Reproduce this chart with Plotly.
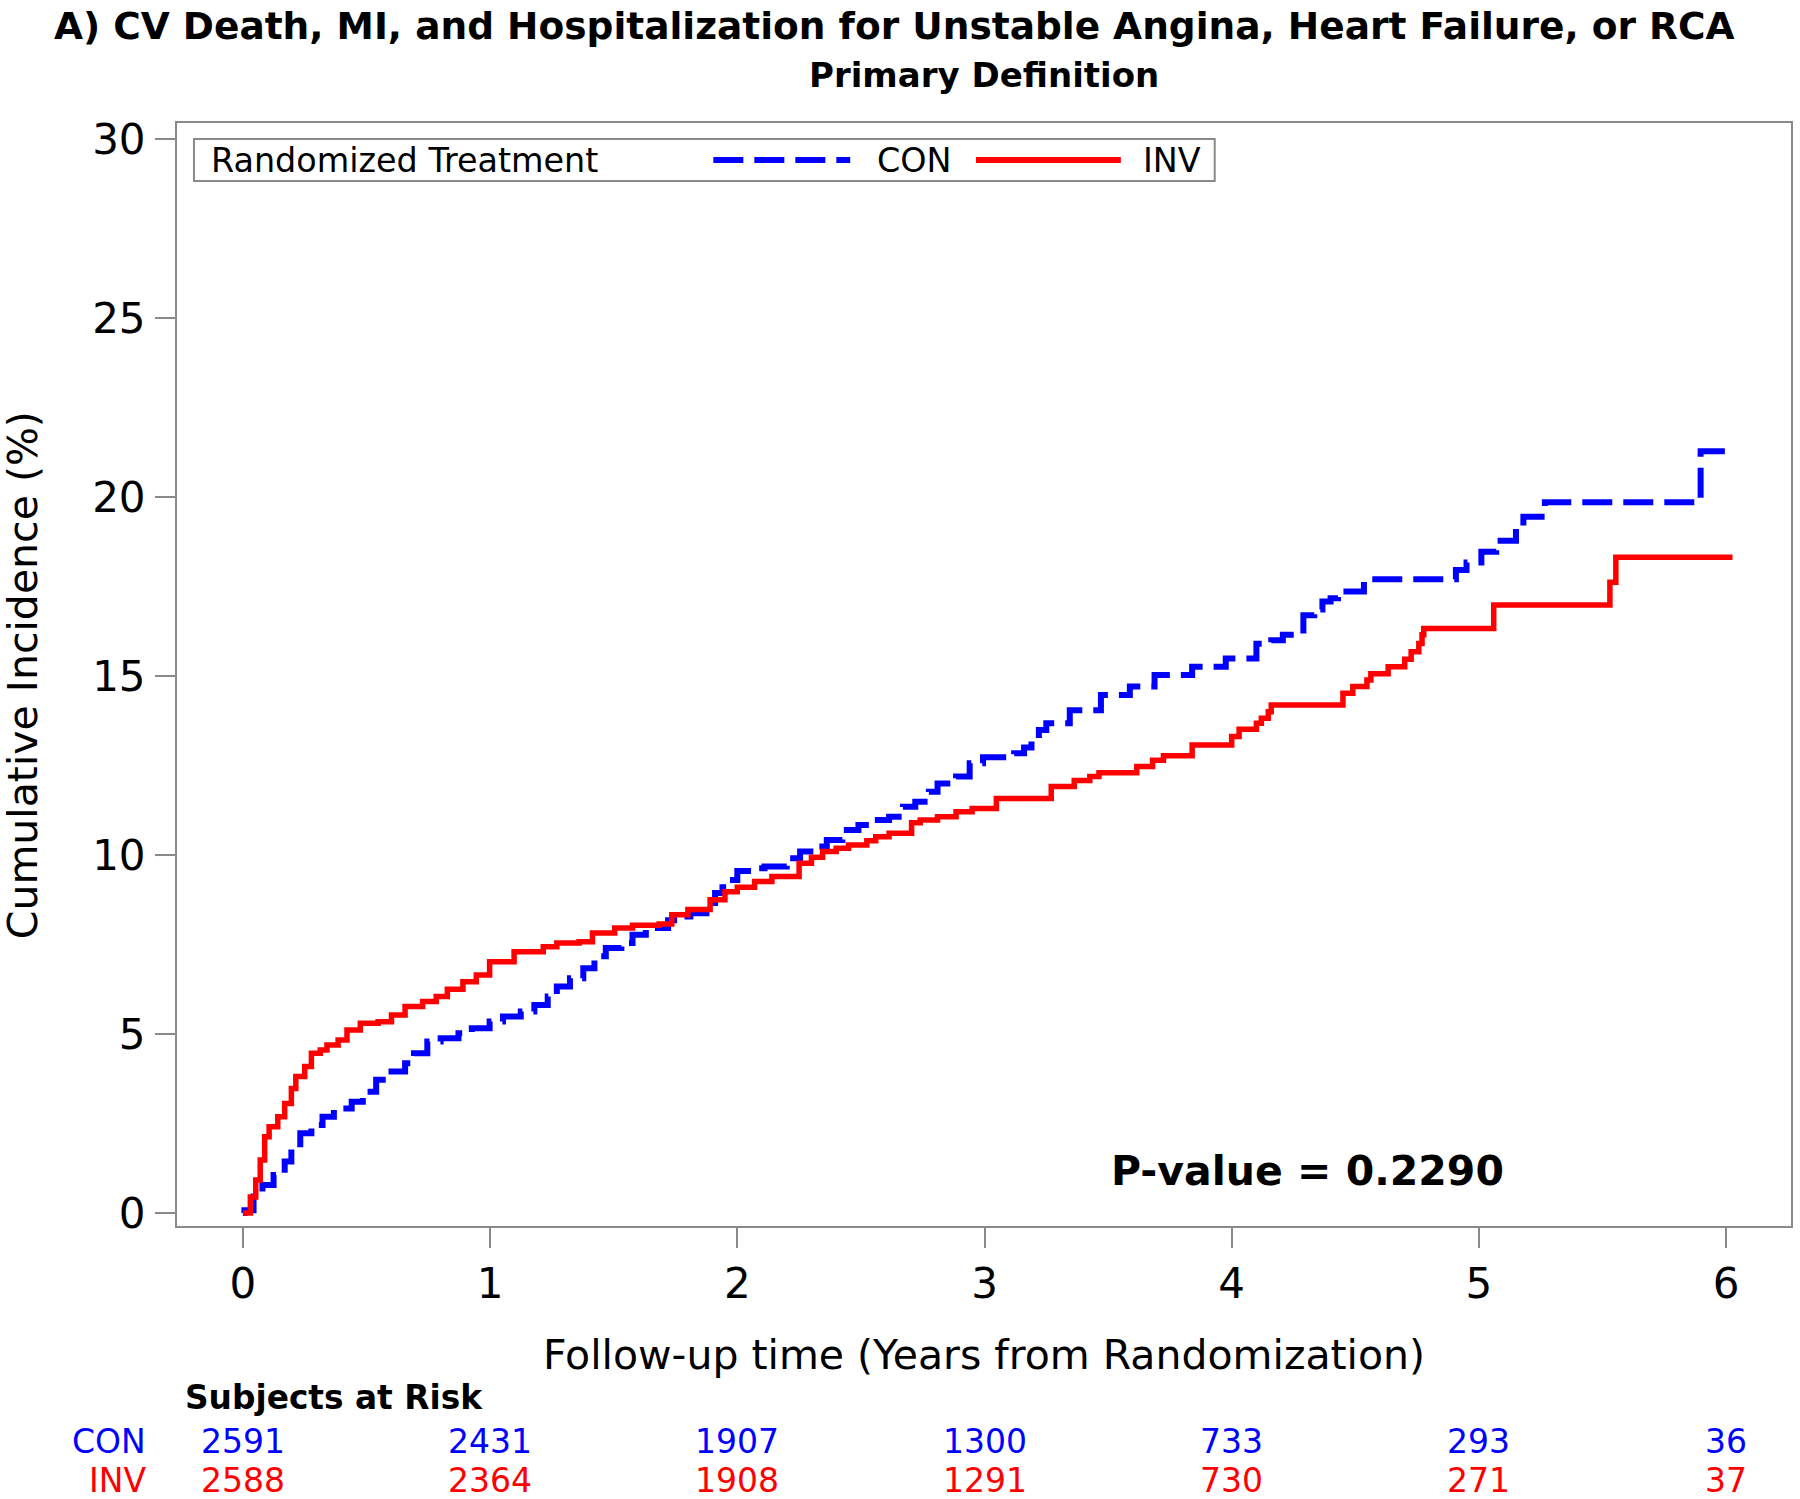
import plotly.graph_objects as go

# ---------------- data ----------------
con_t = [0, 0.006, 0.043, 0.079, 0.124, 0.169, 0.196, 0.232, 0.277, 0.322, 0.368, 0.44, 0.485,
         0.539, 0.584, 0.656, 0.692, 0.746, 0.80, 0.872, 0.926, 0.998, 1.052, 1.124, 1.179, 1.233,
         1.27, 1.323, 1.377, 1.422, 1.468, 1.531, 1.576, 1.63, 1.72, 1.766, 1.81, 1.875, 1.91, 1.94,
         1.97, 2.0, 2.06, 2.11, 2.20, 2.254, 2.317, 2.362, 2.425, 2.49, 2.55, 2.614, 2.67, 2.72,
         2.775, 2.81, 2.885, 2.94, 2.994, 3.12, 3.16, 3.19, 3.22, 3.25, 3.345, 3.471, 3.588, 3.688,
         3.84, 3.976, 4.10, 4.16, 4.207, 4.29, 4.334, 4.367, 4.40, 4.43, 4.535, 4.907, 4.95, 5.01,
         5.07, 5.15, 5.18, 5.267, 5.897, 5.995]
con_v = [0, 0.08, 0.46, 0.78, 1.06, 1.44, 1.81, 2.23, 2.46, 2.69, 2.92, 3.11, 3.39,
         3.72, 3.95, 4.18, 4.46, 4.79, 4.88, 5.02, 5.16, 5.35, 5.49, 5.63, 5.81, 6.05,
         6.33, 6.56, 6.84, 7.17, 7.40, 7.54, 7.77, 7.96, 8.18, 8.28, 8.37, 8.66, 8.94, 9.10,
         9.30, 9.55, 9.63, 9.68, 9.91, 10.10, 10.24, 10.42, 10.70, 10.84, 10.98, 11.07, 11.35, 11.49,
         11.77, 12.0, 12.19, 12.56, 12.73, 12.84, 13.0, 13.21, 13.49, 13.68, 14.04, 14.47, 14.71, 15.03,
         15.26, 15.49, 15.9, 16.0, 16.15, 16.70, 16.86, 17.08, 17.17, 17.36, 17.70, 17.96, 18.17, 18.47,
         18.78, 19.12, 19.45, 19.85, 21.28, 21.28]

inv_t = [0, 0.03, 0.052, 0.07, 0.088, 0.106, 0.141, 0.169, 0.196, 0.214, 0.25, 0.277, 0.313,
         0.34, 0.385, 0.421, 0.475, 0.547, 0.601, 0.656, 0.727, 0.782, 0.827, 0.89, 0.944, 0.998,
         1.097, 1.215, 1.27, 1.36, 1.414, 1.504, 1.576, 1.684, 1.735, 1.80, 1.89, 1.95, 2.0, 2.07,
         2.14, 2.25, 2.30, 2.345, 2.40, 2.45, 2.524, 2.56, 2.614, 2.705, 2.74, 2.81, 2.885, 2.95,
         3.048, 3.27, 3.363, 3.426, 3.463, 3.616, 3.68, 3.724, 3.84, 4.0, 4.03, 4.1, 4.12, 4.148,
         4.16, 4.45, 4.49, 4.547, 4.563, 4.633, 4.70, 4.726, 4.757, 4.77, 4.777, 5.06, 5.53, 5.554,
         6.026]
inv_v = [0, 0.45, 0.92, 1.48, 2.13, 2.41, 2.69, 3.06, 3.48, 3.81, 4.09, 4.46, 4.55,
         4.69, 4.83, 5.11, 5.30, 5.34, 5.53, 5.77, 5.91, 6.05, 6.25, 6.46, 6.65, 7.02,
         7.30, 7.44, 7.54, 7.58, 7.82, 7.96, 8.04, 8.07, 8.33, 8.48, 8.75, 8.97, 9.10, 9.26,
         9.40, 9.77, 9.94, 10.10, 10.19, 10.28, 10.40, 10.51, 10.61, 10.90, 10.98, 11.07, 11.21, 11.30,
         11.58, 11.91, 12.08, 12.19, 12.30, 12.47, 12.65, 12.77, 13.07, 13.31, 13.51, 13.68, 13.82, 14.0,
         14.19, 14.52, 14.71, 14.89, 15.06, 15.26, 15.47, 15.68, 15.91, 16.15, 16.33, 16.98, 17.62, 18.32,
         18.32]

x_ticks = [0, 1, 2, 3, 4, 5, 6]
y_ticks = [0, 5, 10, 15, 20, 25, 30]
risk_con = [2591, 2431, 1907, 1300, 733, 293, 36]
risk_inv = [2588, 2364, 1908, 1291, 730, 271, 37]

title_text = "A) CV Death, MI, and Hospitalization for Unstable Angina, Heart Failure, or RCA"
subtitle_text = "Primary Definition"
x_title = "Follow-up time (Years from Randomization)"
y_title = "Cumulative Incidence (%)"
pvalue_text = "P-value = 0.2290"

BLUE = "#0000FF"
RED = "#FF0000"
GRAY = "#8a8a8a"
FONT = "DejaVu Sans"

# ---------------- geometry (screen pixels; body margin removed) ----------------
W, H = 1800, 1499
PL, PR, PT, PB = 177, 1793, 123, 1226


def px(xp):
    return (xp - PL) / (PR - PL)


def py(yp):
    return (PB - yp) / (PB - PT)


fig = go.Figure()
fig.add_trace(go.Scatter(x=con_t, y=con_v, mode="lines", name="CON", showlegend=False,
                         line=dict(color=BLUE, width=6, dash="30px,11px", shape="hv")))
fig.add_trace(go.Scatter(x=inv_t, y=inv_v, mode="lines", name="INV", showlegend=False,
                         line=dict(color=RED, width=5.5, shape="hv")))

annotations = []
shapes = []

# titles
annotations.append(dict(text="<b>%s</b>" % title_text, xref="paper", yref="paper",
                        x=px(895), y=py(26), xanchor="center", yanchor="middle", showarrow=False,
                        font=dict(family=FONT, size=37.5, color="black")))
annotations.append(dict(text="<b>%s</b>" % subtitle_text, xref="paper", yref="paper",
                        x=px(985), y=py(75), xanchor="center", yanchor="middle", showarrow=False,
                        font=dict(family=FONT, size=34, color="black")))
# axis titles
annotations.append(dict(text=x_title, xref="paper", yref="paper", x=px(985), y=py(1355),
                        xanchor="center", yanchor="middle", showarrow=False,
                        font=dict(family=FONT, size=41, color="black")))
annotations.append(dict(text=y_title, xref="paper", yref="paper", x=px(23), y=py(675),
                        xanchor="center", yanchor="middle", showarrow=False, textangle=-90,
                        font=dict(family=FONT, size=41, color="black")))
# p-value
annotations.append(dict(text="<b>%s</b>" % pvalue_text, xref="paper", yref="paper",
                        x=px(1309), y=py(1171), xanchor="center", yanchor="middle", showarrow=False,
                        font=dict(family=FONT, size=41, color="black")))

# legend box (drawn)
LY = 160
shapes.append(dict(type="rect", xref="paper", yref="paper", x0=px(194), x1=px(1216),
                   y0=py(181), y1=py(139), line=dict(color=GRAY, width=2), fillcolor="white"))
annotations.append(dict(text="Randomized Treatment", xref="paper", yref="paper", x=px(209), y=py(LY),
                        xanchor="left", yanchor="middle", showarrow=False,
                        font=dict(family=FONT, size=33.4, color="black")))
shapes.append(dict(type="line", xref="paper", yref="paper", x0=px(714), x1=px(851), y0=py(LY), y1=py(LY),
                   line=dict(color=BLUE, width=6, dash="30px,11px")))
annotations.append(dict(text="CON", xref="paper", yref="paper", x=px(876), y=py(LY),
                        xanchor="left", yanchor="middle", showarrow=False,
                        font=dict(family=FONT, size=33.4, color="black")))
shapes.append(dict(type="line", xref="paper", yref="paper", x0=px(977), x1=px(1122), y0=py(LY), y1=py(LY),
                   line=dict(color=RED, width=6)))
annotations.append(dict(text="INV", xref="paper", yref="paper", x=px(1142), y=py(LY),
                        xanchor="left", yanchor="middle", showarrow=False,
                        font=dict(family=FONT, size=33.4, color="black")))

# at-risk table
annotations.append(dict(text="<b>Subjects at Risk</b>", xref="paper", yref="paper", x=px(184), y=py(1398),
                        xanchor="left", yanchor="middle", showarrow=False, borderpad=0,
                        font=dict(family=FONT, size=32.8, color="black")))
for lab, vals, col, yy in [("CON", risk_con, BLUE, 1441), ("INV", risk_inv, RED, 1480)]:
    annotations.append(dict(text=lab, xref="paper", yref="paper", x=px(147), y=py(yy),
                            xanchor="right", yanchor="middle", showarrow=False, borderpad=0,
                            font=dict(family=FONT, size=33, color=col)))
    for t, n in zip(x_ticks, vals):
        annotations.append(dict(text=str(n), xref="x", yref="paper", x=t, y=py(yy),
                                xanchor="center", yanchor="middle", showarrow=False, borderpad=0,
                                font=dict(family=FONT, size=33, color=col)))

x0_px, x6_px = 243, 1728
xs = (x6_px - x0_px) / 6
xr = [(PL - x0_px) / xs, (PR - x0_px) / xs]
y0_px, y30_px = 1213, 139
ys = (y0_px - y30_px) / 30
yr = [(y0_px - PB) / ys, (y0_px - PT) / ys]

axis_common = dict(showline=True, linecolor=GRAY, linewidth=2, mirror=True, showgrid=False,
                   zeroline=False, ticks="outside", ticklen=20, tickwidth=2, tickcolor=GRAY,
                   tickfont=dict(family=FONT, size=42, color="black"))

fig.update_layout(
    width=W, height=H, autosize=False,
    margin=dict(l=PL, r=W - PR, t=PT, b=H - PB, pad=0),
    paper_bgcolor="white", plot_bgcolor="white",
    showlegend=False,
    xaxis=dict(range=xr, tickvals=x_ticks, ticktext=[str(v) for v in x_ticks],
               ticklabelstandoff=0, **axis_common),
    yaxis=dict(range=yr, tickvals=y_ticks, ticktext=[str(v) for v in y_ticks],
               ticklabelstandoff=1, **axis_common),
    annotations=annotations,
    shapes=shapes,
    font=dict(family=FONT, color="black"),
)

fig.write_html("out.html", config={"displayModeBar": False},
               post_script="document.body.style.margin='0px';")
